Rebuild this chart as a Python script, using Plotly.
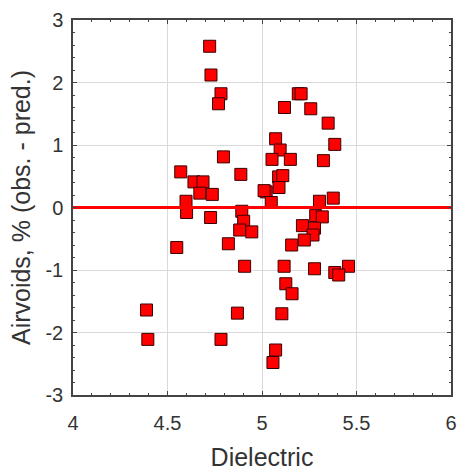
import plotly.graph_objects as go

dielectric = [4.723, 4.730, 4.783, 4.770, 4.796, 4.570, 4.888, 4.640, 4.688, 4.671,
              4.737, 4.598, 4.601, 4.728, 4.893, 4.903, 4.882, 4.946, 4.822, 4.549,
              4.908, 4.389, 4.870, 4.396, 4.783, 5.192, 5.207, 5.119, 5.258, 5.350,
              5.072, 5.096, 5.385, 5.053, 5.150, 5.325, 5.088, 5.110, 5.090, 5.022,
              5.011, 5.049, 5.304, 5.377, 5.284, 5.319, 5.214, 5.278, 5.270, 5.224,
              5.157, 5.117, 5.278, 5.458, 5.385, 5.406, 5.126, 5.159, 5.105, 5.072,
              5.058]
residual = [2.58, 2.12, 1.82, 1.66, 0.81, 0.57, 0.53, 0.41, 0.41, 0.23,
            0.21, 0.10, -0.08, -0.16, -0.06, -0.22, -0.36, -0.39, -0.58, -0.64,
            -0.94, -1.64, -1.69, -2.11, -2.11, 1.82, 1.82, 1.60, 1.58, 1.35,
            1.10, 0.92, 1.01, 0.77, 0.77, 0.75, 0.49, 0.51, 0.32, 0.25,
            0.27, 0.08, 0.10, 0.15, -0.13, -0.15, -0.29, -0.33, -0.44, -0.52,
            -0.60, -0.94, -0.98, -0.94, -1.04, -1.08, -1.22, -1.38, -1.70, -2.28,
            -2.48]
zero_line_x = [4, 6]
zero_line_y = [0, 0]
x_ticks = [4, 4.5, 5, 5.5, 6]
y_ticks = [-3, -2, -1, 0, 1, 2, 3]

fig = go.Figure()
fig.add_trace(go.Scatter(
    x=dielectric, y=residual, mode="markers",
    marker=dict(symbol="square", size=12, color="#ff0000",
                line=dict(color="#3a0000", width=1)),
    showlegend=False))
fig.add_trace(go.Scatter(
    x=zero_line_x, y=zero_line_y, mode="lines",
    line=dict(color="#ff0000", width=3), showlegend=False))

font = "Liberation Sans, Arial, sans-serif"
axis_common = dict(
    showgrid=True, gridcolor="#dadada", gridwidth=1,
    showline=True, linecolor="#444444", linewidth=1.5, mirror="ticks",
    ticks="inside", ticklen=4, tickcolor="#444444",
    zeroline=False,
    tickfont=dict(family=font, size=20, color="#333333"),
)
fig.update_layout(
    width=466, height=476,
    margin=dict(l=73, r=9, t=13, b=80),
    paper_bgcolor="white", plot_bgcolor="white",
    xaxis=dict(range=[4, 6], tickvals=x_ticks, ticktext=[str(v) for v in x_ticks],
               ticklabelstandoff=9,
               title=dict(text="Dielectric", font=dict(family=font, size=25, color="#333333"), standoff=16),
               minor=dict(dtick=0.1, ticks="inside", ticklen=2.5, tickcolor="#444444", showgrid=False),
               **axis_common),
    yaxis=dict(range=[-3, 3], tickvals=y_ticks, ticktext=[str(v) for v in y_ticks],
               ticklabelstandoff=4,
               title=dict(text="Airvoids, % (obs. - pred.)", font=dict(family=font, size=25, color="#333333"), standoff=8),
               minor=dict(dtick=0.2, ticks="inside", ticklen=2.5, tickcolor="#444444", showgrid=False),
               **axis_common),
)
fig.write_html("out.html")
